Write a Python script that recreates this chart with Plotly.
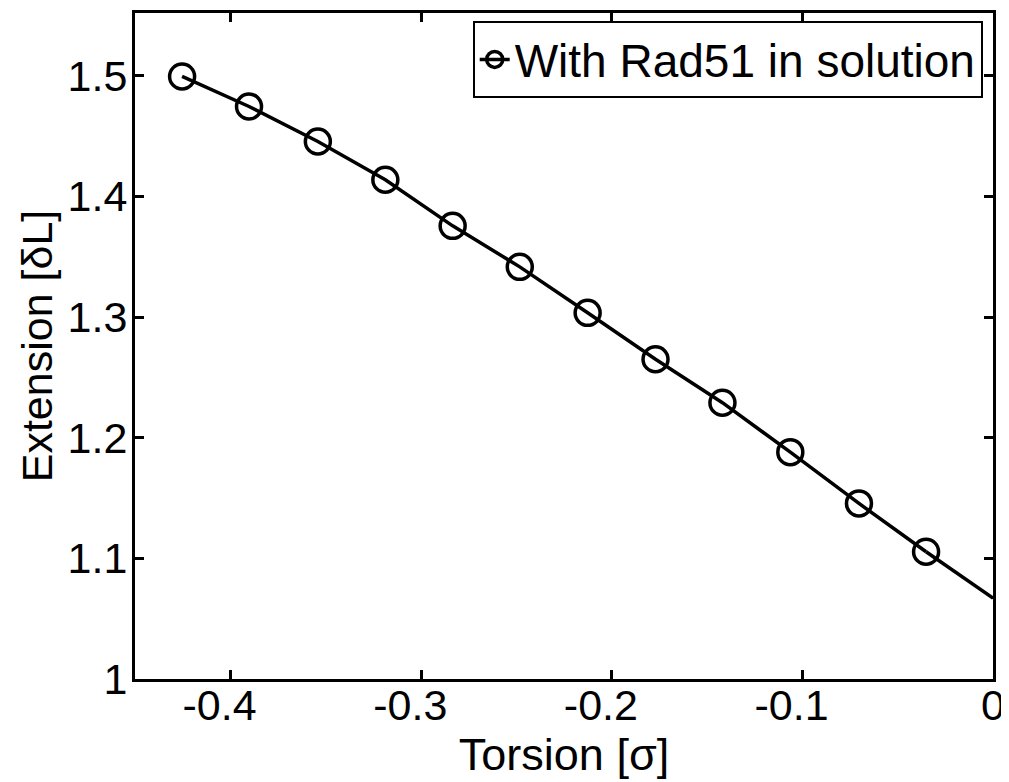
import plotly.graph_objects as go

torsion = [-0.4253, -0.3902, -0.3541, -0.3187, -0.2834, -0.2482, -0.2126, -0.1770, -0.1419, -0.1063, -0.0703, -0.0351]
extension = [1.4994, 1.4745, 1.4455, 1.4138, 1.3756, 1.3416, 1.3035, 1.2650, 1.2290, 1.1880, 1.1455, 1.1055]
fit_end_x = [-0.0351, 0.0]
fit_end_y = [1.1055, 1.067]

x_tickvals = [-0.4, -0.3, -0.2, -0.1, 0]
x_ticktext = ["-0.4\u2002", "-0.3\u2002", "-0.2\u2002", "-0.1\u2002", "0"]
y_tickvals = [1, 1.1, 1.2, 1.3, 1.4, 1.5]
y_ticktext = ["1", "1.1", "1.2", "1.3", "1.4", "1.5"]

FONT = "Liberation Sans, Arial, sans-serif"

fig = go.Figure()
fig.add_trace(go.Scatter(
    x=fit_end_x, y=fit_end_y, mode="lines",
    line=dict(color="black", width=3.5), showlegend=False, hoverinfo="skip"))
fig.add_trace(go.Scatter(
    x=torsion, y=extension, mode="lines+markers", name="With Rad51 in solution",
    line=dict(color="black", width=3.5),
    marker=dict(symbol="circle-open", size=25, color="black", line=dict(width=3.5))))

axis_common = dict(
    showline=True, linecolor="black", linewidth=3, mirror="ticks",
    ticks="inside", ticklen=9, tickwidth=2.5, tickcolor="black",
    showgrid=False, zeroline=False,
    tickfont=dict(family=FONT, size=43, color="black"),
)

fig.update_layout(
    width=1001, height=774,
    paper_bgcolor="white", plot_bgcolor="white",
    margin=dict(l=127, r=16, t=5, b=103, autoexpand=False),
    font=dict(family=FONT, color="black"),
    xaxis=dict(range=[-0.45, 0], tickvals=x_tickvals, ticktext=x_ticktext,
               ticklabelstandoff=-14, automargin=False,
               title=dict(text="Torsion [σ]", font=dict(family=FONT, size=45), standoff=6),
               **axis_common),
    yaxis=dict(range=[1, 1.552], tickvals=y_tickvals, ticktext=y_ticktext,
               ticklabelstandoff=-4, automargin=False,
               title=dict(text="Extension [δL]", font=dict(family=FONT, size=43), standoff=2),
               **axis_common),
    legend=dict(x=0.988, y=0.988, xanchor="right", yanchor="top",
                bgcolor="white", bordercolor="black", borderwidth=2,
                font=dict(family=FONT, size=46, color="black"),
                itemwidth=30, tracegroupgap=0, itemsizing="trace"),
)

fig.write_html("out.html")
